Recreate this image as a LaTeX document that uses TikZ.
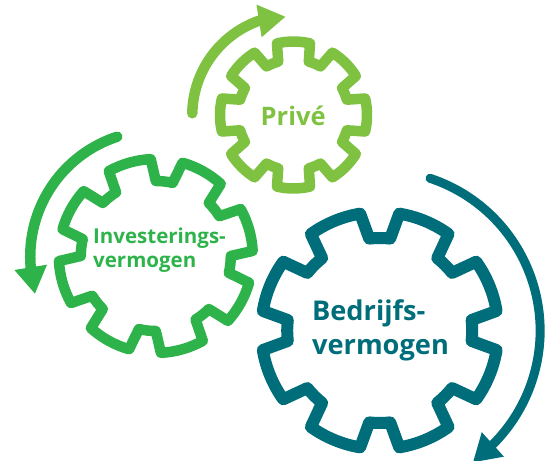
\documentclass[tikz,border=0pt]{standalone}
\usepackage{fontspec}
\setmainfont{Open Sans}
\usetikzlibrary{arrows.meta}
\definecolor{prive-green}{HTML}{7FC241}
\definecolor{invest-green}{HTML}{2EB34B}
\definecolor{bedrijf-teal}{HTML}{006E7A}
% centre, rotation, tip radius, root radius
\newcommand{\gearshape}[4]{
    \draw [gear-line, shift={(#1)}, rotate=#2] (-16:#4)
        \foreach \a in {0,45,...,315} {
            -- ({\a-13}:#3) arc[start angle=\a-13, end angle=\a+13, radius=#3]
            -- ({\a+16}:#4) arc[start angle=\a+16, end angle=\a+29, radius=#4]
        } -- cycle;
}
\begin{document}
\begin{tikzpicture}[x=1pt, y=1pt,
    gear-line/.style={line join=round},
    flow-arrow/.style={line cap=round, -{Triangle[length=27pt, width=31pt]}},
    gear-text/.style={align=left, inner sep=0pt}]
    \useasboundingbox (0,0) rectangle (547,461);
    \coordinate (prive-c) at (293.5,346);
    \coordinate (invest-c) at (155.8,205);
    \coordinate (bedrijf-c) at (379.7,130.5);
    \coordinate (prive-start) at (192.3,347.7);
    \coordinate (prive-tip) at (285.7,444.3);
    \coordinate (invest-start) at (117.3,324.3);
    \coordinate (invest-tip) at (35,167);
    \coordinate (bedrijf-start) at (430,282.7);
    \coordinate (bedrijf-tip) at (472.8,-1.5);
    % gears
    \begin{scope}[draw=prive-green, line width=10.5pt]
        \gearshape{prive-c}{0}{73.5}{55.5}
    \end{scope}
    \begin{scope}[draw=invest-green, line width=10.5pt]
        \gearshape{invest-c}{16}{97}{75}
    \end{scope}
    \begin{scope}[draw=bedrijf-teal, line width=12pt]
        \gearshape{bedrijf-c}{22.5}{118.5}{92.5}
    \end{scope}
    % arrows
    \draw [flow-arrow, prive-green, line width=10.5pt] (prive-start)
        arc[start angle=179, end angle=110, radius=100] -- (prive-tip);
    \draw [flow-arrow, invest-green, line width=10.5pt] (invest-start)
        arc[start angle=108, end angle=185, radius=126] -- (invest-tip);
    \draw [flow-arrow, bedrijf-teal, line width=9pt] (bedrijf-start)
        arc[start angle=71.7, end angle=-45, radius=160.5] -- (bedrijf-tip);
    % labels
    \node [gear-text, text=prive-green, font=\fontsize{25.5}{30}\selectfont\bfseries] (prive) at (293.2,345) {Privé};
    \node [gear-text, text=invest-green, font=\fontsize{20.5}{24.3}\selectfont\bfseries] (invest) at (159.5,211) {Investerings-\\vermogen};
    \node [gear-text, text=bedrijf-teal, font=\fontsize{27.2}{33.3}\selectfont\bfseries] (bedrijf) at (380.5,130.5) {Bedrijfs-\\vermogen};
\end{tikzpicture}
\end{document}
